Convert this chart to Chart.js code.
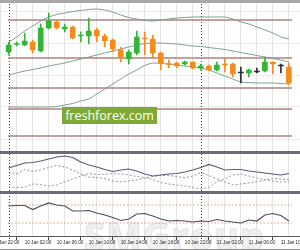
<!DOCTYPE html>
<html>
<head>
<meta charset="utf-8">
<script src="https://cdn.jsdelivr.net/npm/chart.js@4.4.1/dist/chart.umd.min.js"></script>
<style>
  html, body { margin: 0; padding: 0; background: #fff; }
  #wrap { position: relative; width: 300px; height: 250px; box-sizing: border-box;
          border-top: 3px solid #a9a9a9; border-bottom: 1px solid #8c8c8c; overflow: hidden; background: #fff; }
  #wrap canvas { position: absolute; left: 0; top: 0; z-index: 1; }
  .mark { position: absolute; left: 84px; top: 206px; z-index: 0; font: bold 38px 'Open Sans', sans-serif;
          color: #f1f1f1; -webkit-text-stroke: 1px #e2e2e2; letter-spacing: 1px; white-space: nowrap; }
  .logo { position: absolute; left: 62px; top: 104px; width: 95px; height: 17px; z-index: 2;
          background: #7caa34; color: #fff; font: 12.5px 'Open Sans', sans-serif; line-height: 17px; text-align: center; }
</style>
</head>
<body>
<div id="wrap">
  <div class="mark">SMGroup</div>
  <canvas id="chart" width="300" height="246"></canvas>
  <div class="logo">freshforex.com</div>
</div>
<script>
// hourly candles, 10 Jan 00:00 .. 11 Jan 11:00
const open  = [98, 105.5, 105, 108, 99, 122, 128, 121, 123, 114, 114, 120, 114, 110, 100, 91, 97, 112, 111, 97, 86.5, 87, 86, 88, 82, 84, 80, 86, 86, 78, 77, 79, 79, 88, 85, 83];
const high  = [108, 108, 117, 110, 126, 137, 130, 126, 124, 118, 132, 122, 116, 111, 103, 100, 119, 118, 115, 98, 90, 88, 89, 88, 86, 85, 88, 91, 87, 83, 81, 82, 93, 88, 86, 87];
const low   = [95, 104, 104, 97, 98, 121, 121, 118, 111, 108, 106, 108, 103, 98, 88, 86, 95, 95, 92, 80, 82, 82, 85, 81, 80, 79, 79, 78, 73, 67, 73, 77, 78, 76, 77, 65];
const close = [105, 106.5, 109, 100, 122, 129, 122, 123, 112, 115, 119, 114, 109, 101, 93, 98, 113, 111, 97, 87, 85.5, 84, 88, 82, 84, 80, 85, 85, 76, 78, 80, 79, 88, 86, 85, 67];

// bollinger bands
const bbUpper  = [108, 113, 119, 124, 129, 133, 135.5, 137, 138.5, 139.5, 140.5, 141, 140, 138, 135, 132.5, 131, 129.5, 129, 130, 131, 132, 132.5, 133, 133, 133, 133, 133, 131, 128, 126, 123, 120, 117, 113, 111];
const bbMiddle = [75, 77, 79, 80.5, 82, 84, 85.5, 87, 89, 91, 93, 95, 97, 99, 101, 103, 105, 106.5, 107, 107, 106.5, 106, 105, 104, 103.5, 102.5, 101.5, 100.5, 99, 97.5, 96, 94.5, 93, 91.5, 90, 88];
const bbLower  = [43, 43, 43, 43, 43, 43, 43.5, 45, 46.5, 49, 51, 56, 61, 66, 71, 76, 80, 84.5, 87, 86.5, 86, 85, 84, 83, 82, 80, 77, 74, 71, 68, 67.5, 67, 67, 67, 66.5, 66];

// horizontal price levels
const levels = [130, 92, 62, 41, 14];
const priceGrid = [11, 43, 75, 107, 139];

// first oscillator pane
const osc1Main = [24.5, 27, 29.5, 30, 31.5, 33.5, 35.5, 36.5, 35, 30.5, 27.5, 25.5, 23, 21, 22.5, 23.5, 21.5, 18.5, 16.5, 17.5, 18.5, 19, 20.5, 22.5, 25, 28, 25.5, 22.5, 23, 23, 21.5, 20.5, 19.5, 18.5, 17.5, 19];
const osc1A = [19.5, 18.5, 23, 21, 22.5, 25, 27, 25.5, 22.5, 18.5, 15.5, 15, 14, 11.5, 10.5, 11.5, 12.5, 14.5, 16, 17, 17, 16, 14.5, 16.5, 20, 17, 13.5, 10.5, 7.5, 8.5, 9.5, 11, 12.5, 14, 13.5, 12.5];
const osc1B = [5.5, 5, 5.5, 8.5, 8, 6.5, 7.5, 10.5, 13.5, 16.5, 19, 18, 18, 19, 18.5, 17.5, 16, 15, 13, 10, 8.5, 7.5, 6.5, 5, 3.5, 5, 10.5, 14, 17.5, 18.5, 16.5, 14.5, 13, 11.5, 10.5, 10.5];

// second oscillator pane
const osc2 = [30, 30.5, 30.5, 26.5, 30, 33, 31, 30, 25, 25, 25.5, 23, 21, 18.5, 15.5, 17, 22, 22.5, 20, 17, 15, 15.5, 15, 14, 15, 14.5, 16.5, 15, 14, 13, 16, 15, 21, 22.5, 20.5, 15];
const osc2Levels = [31, 13];

// time axis (index = hours since 10 Jan 00:00)
const tickIndex = [-2, 2, 6, 10, 14, 18, 22, 26, 30, 34];
const tickLabels = ['09 Jan 22:00', '10 Jan 02:00', '10 Jan 06:00', '10 Jan 10:00', '10 Jan 14:00',
                    '10 Jan 18:00', '10 Jan 22:00', '11 Jan 02:00', '11 Jan 06:00', '11 Jan 10:00'];
const gridHours = [-2, 0, 2, 4, 6, 8, 10, 12, 14, 16, 18, 20, 22, 24, 26, 28, 30, 32, 34];
const dayStarts = [0, 24];

const xMin = -0.1, xMax = 35.4;
const GREEN = '#35b536', ORANGE = '#f28c1e', DOJI = '#2d2d3a';

const candleColor = open.map((o, i) => close[i] > o ? GREEN : close[i] < o ? ORANGE : DOJI);
const pts = arr => arr.map((v, i) => ({x: i, y: v}));
const hline = v => [{x: xMin, y: v}, {x: xMax, y: v}];
const labelAt = v => { const k = tickIndex.indexOf(v); return k < 0 ? '' : tickLabels[k]; };

const datasets = [
  { type: 'bar', data: open.map((o, i) => ({x: i, y: [o, close[i]]})), backgroundColor: candleColor,
    barThickness: 5, minBarLength: 1, grouped: false, yAxisID: 'yMain', order: 0 },
  { type: 'bar', data: low.map((l, i) => ({x: i, y: [l, high[i]]})), backgroundColor: candleColor,
    barThickness: 1, grouped: false, yAxisID: 'yMain', order: 1 }
];
[bbUpper, bbMiddle, bbLower].forEach(band => datasets.push({
  type: 'line', data: pts(band), borderColor: '#7f9f90', borderWidth: 1, pointRadius: 0,
  tension: 0.3, yAxisID: 'yMain', order: 2
}));
levels.forEach(v => datasets.push({
  type: 'line', data: hline(v), borderColor: '#ae8282', borderWidth: 1.5, pointRadius: 0, yAxisID: 'yMain', order: 3
}));
datasets.push(
  { type: 'line', data: pts(osc1Main), borderColor: '#5a5a7c', borderWidth: 1.2, pointRadius: 0, yAxisID: 'yOsc1', order: 4 },
  { type: 'line', data: pts(osc1A), borderColor: '#8e8e8e', borderWidth: 1, borderDash: [2, 2], pointRadius: 0, yAxisID: 'yOsc1', order: 5 },
  { type: 'line', data: pts(osc1B), borderColor: '#9a9a9a', borderWidth: 1, borderDash: [2, 2], pointRadius: 0, yAxisID: 'yOsc1', order: 5 },
  { type: 'line', data: pts(osc2), borderColor: '#4e4e5e', borderWidth: 1.2, pointRadius: 0, yAxisID: 'yOsc2', order: 4 }
);
osc2Levels.forEach(v => datasets.push({
  type: 'line', data: hline(v), borderColor: '#c9a07a', borderWidth: 1, borderDash: [1.5, 2], pointRadius: 0, yAxisID: 'yOsc2', order: 6
}));

const daySeparators = {
  id: 'daySeparators',
  beforeDatasetsDraw(chart) {
    const {ctx, chartArea, scales: {x}} = chart;
    ctx.save();
    ctx.strokeStyle = '#3c3c46';
    ctx.lineWidth = 1;
    ctx.setLineDash([1, 2]);
    dayStarts.forEach(i => {
      const px = Math.round(x.getPixelForValue(i)) + 0.5;
      ctx.beginPath();
      ctx.moveTo(px, chartArea.top);
      ctx.lineTo(px, chartArea.bottom + 5);
      ctx.stroke();
    });
    ctx.restore();
  }
};

const paneSeparators = {
  id: 'paneSeparators',
  afterDraw(chart) {
    const {ctx, chartArea, scales} = chart;
    ctx.save();
    ctx.strokeStyle = '#6c6c78';
    ctx.lineWidth = 3;
    [scales.yOsc1.top, scales.yOsc2.top].forEach(y => {
      ctx.beginPath();
      ctx.moveTo(chartArea.left, y);
      ctx.lineTo(chartArea.right, y);
      ctx.stroke();
    });
    ctx.restore();
  }
};

new Chart(document.getElementById('chart'), {
  data: { datasets },
  options: {
    responsive: false,
    animation: false,
    layout: { padding: { top: 1, left: 0, right: 0, bottom: 0 } },
    plugins: { legend: { display: false }, tooltip: { enabled: false } },
    scales: {
      x: {
        type: 'linear', position: 'bottom', min: xMin, max: xMax,
        afterBuildTicks: s => { s.ticks = gridHours.map(v => ({value: v})); },
        afterFit: s => { s.height = 13; s.paddingLeft = 0; s.paddingRight = 0; },
        ticks: { autoSkip: false, maxRotation: 0, align: 'start', padding: 0, color: '#222',
                 font: { size: 4.6, family: 'Liberation Sans' }, callback: v => labelAt(v) },
        grid: { color: '#e4e4e4', tickLength: 4,
                tickColor: c => (c.tick && labelAt(c.tick.value)) ? '#444' : 'rgba(0,0,0,0)' },
        border: { color: '#5a5a5a', width: 1 }
      },
      yOsc2: {
        type: 'linear', position: 'left', stack: 'panes', stackWeight: 43.5, weight: 1,
        min: 0, max: 43.5, display: false
      },
      yOsc1: {
        type: 'linear', position: 'left', stack: 'panes', stackWeight: 40, weight: 2,
        min: 0, max: 40, display: false
      },
      yMain: {
        type: 'linear', position: 'left', stack: 'panes', stackWeight: 148.5, weight: 3,
        min: -2.5, max: 146,
        afterBuildTicks: s => { s.ticks = priceGrid.map(v => ({value: v})); },
        ticks: { display: false }, border: { display: false },
        grid: { color: '#ececec', drawTicks: false }
      }
    }
  },
  plugins: [daySeparators, paneSeparators]
});
</script>
</body>
</html>
